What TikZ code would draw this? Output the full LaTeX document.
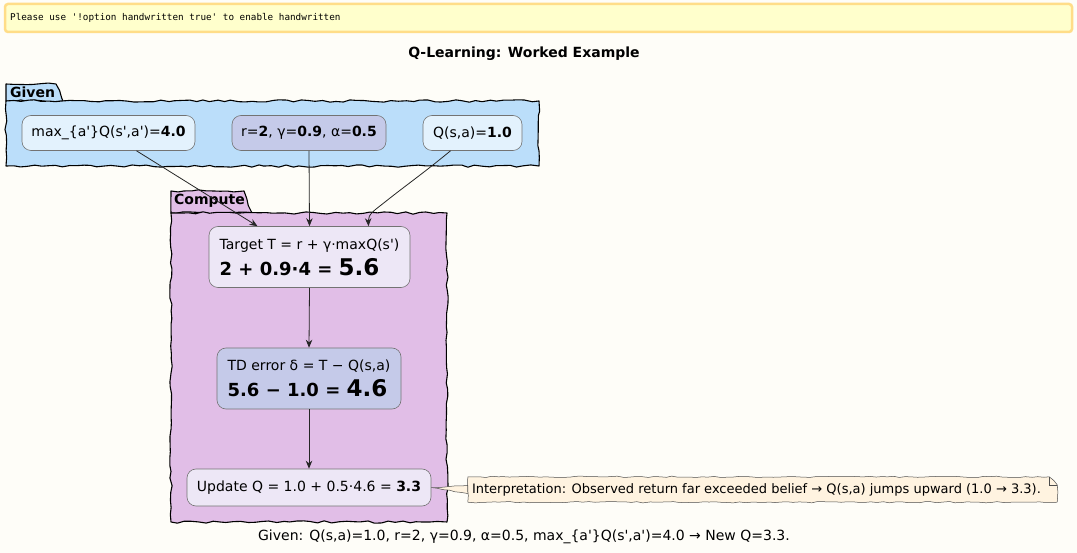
\documentclass[tikz,border=0pt]{standalone}
\usepackage{fontspec}
\newfontfamily\djv{DejaVu Sans}
\newfontfamily\djvmono{DejaVu Sans Mono}
\usetikzlibrary{decorations.pathmorphing,arrows.meta}
\definecolor{bg}{HTML}{FEFDF8}
\definecolor{warnfill}{HTML}{FFFFCC}
\definecolor{warnline}{HTML}{FFDD88}
\definecolor{givenfill}{HTML}{BBDEFA}
\definecolor{computefill}{HTML}{E1BEE7}
\definecolor{paleblue}{HTML}{E3F2FD}
\definecolor{lav}{HTML}{C5CAE9}
\definecolor{palelav}{HTML}{EDE7F6}
\definecolor{notefill}{HTML}{FFF3E0}
\tikzset{
  pkg/.style={draw=black, line width=1.1pt, line join=round,
    decorate, decoration={random steps, segment length=7pt, amplitude=1.2pt}},
  pkglabel/.style={font=\djv\bfseries\fontsize{14}{16}\selectfont, anchor=west, inner sep=0pt},
  box/.style={draw=black!55, line width=0.6pt, rounded corners=9pt,
    font=\djv\fontsize{14}{17}\selectfont, inner sep=0pt, align=center},
  twoline/.style={font=\djv\fontsize{14}{26}\selectfont, align=left},
  conn/.style={draw=black!85, line width=0.8pt, -{Stealth[length=8pt,width=6.5pt]}},
  notefont/.style={font=\djv\fontsize{13}{15}\selectfont},
}
\begin{document}
\begin{tikzpicture}[x=1pt,y=-1pt]
\pgfmathsetseed{11}
\fill[bg] (0,0) rectangle (1077,553);
\useasboundingbox (0,0) rectangle (1077,553);
% warning
\draw[draw=warnline, line width=2.5pt, fill=warnfill, rounded corners=3pt] (5,4) rectangle (1072,32);
\node[anchor=west, inner sep=0pt, font=\djvmono\fontsize{9.3}{11}\selectfont] (warn) at (10,17.5) {Please use '!option handwritten true' to enable handwritten};
% title
\node[font=\djv\bfseries\fontsize{14}{16}\selectfont] (title) at (524,54) {Q-Learning: Worked Example};
% Given package
\draw[pkg, fill=givenfill] (6,101) -- (6,84) -- (56,84) -- (63,101) -- cycle;
\draw[pkg, fill=givenfill] (6,101) rectangle (539,166);
\node[pkglabel] (givenlbl) at (10,92) {Given};
% Compute package
\draw[pkg, fill=computefill] (171,213) -- (171,191) -- (244,191) -- (252,213) -- cycle;
\draw[pkg, fill=computefill] (171,213) rectangle (447,522);
\node[pkglabel] (computelbl) at (174,201) {Compute};
% given nodes
\node[box, fill=paleblue, minimum width=173pt, minimum height=35pt] (maxq) at (108.5,133) {max\_\{a'\}Q(s',a')=\textbf{4.0}};
\node[box, fill=lav, minimum width=154pt, minimum height=35pt] (params) at (309,133) {r=\textbf{2}, γ=\textbf{0.9}, α=\textbf{0.5}};
\node[box, fill=paleblue, minimum width=99pt, minimum height=35pt] (qsa) at (472.5,133) {Q(s,a)=\textbf{1.0}};
% compute nodes
\node[box, twoline, fill=palelav, minimum width=201pt, minimum height=61pt] (target) at (309.5,257)
  {Target T = r + γ·maxQ(s')\\{\bfseries\fontsize{18}{20}\selectfont 2 + 0.9·4 = {\fontsize{23}{24}\selectfont 5.6}}};
\node[box, twoline, fill=lav, minimum width=184pt, minimum height=61pt] (td) at (309,378.5)
  {TD error δ = T − Q(s,a)\\{\bfseries\fontsize{18}{20}\selectfont 5.6 − 1.0 = {\fontsize{23}{24}\selectfont 4.6}}};
\node[box, fill=palelav, minimum width=244pt, minimum height=37pt] (update) at (309,487.5) {Update Q = 1.0 + 0.5·4.6 = \textbf{3.3}};
% note
\node[inner sep=0pt, minimum width=589pt, minimum height=25pt] (note) at (762.5,489.5) {};
\coordinate (nA) at ([yshift=-4pt]note.west);
\coordinate (nB) at ([yshift=4pt]note.west);
\draw[draw=black!70, line width=0.5pt, fill=notefill, line join=round,
  decorate, decoration={random steps, segment length=6pt, amplitude=0.7pt}]
  (note.north west) -- ([xshift=-8pt]note.north east) -- ([yshift=-8pt]note.north east) -- (note.south east) -- (note.south west) -- (nB) -- (update.east) -- (nA) -- cycle;
\draw[draw=black!70, line width=0.5pt] ([xshift=-8pt]note.north east) -- ([xshift=-8pt,yshift=-8pt]note.north east) -- ([yshift=-8pt]note.north east);
\node[inner sep=0pt, notefont, anchor=west] (notetext) at ([xshift=4pt]note.west) {Interpretation: Observed return far exceeded belief → Q(s,a) jumps upward (1.0 → 3.3).};
% connectors
\draw[conn] ([xshift=28pt]maxq.south) -- ([xshift=-52pt]target.north);
\draw[conn] (params.south) -- (target.north);
\draw[conn] ([xshift=-22pt]qsa.south) .. controls (425,172) and (405,186) .. (385,202) .. controls (375,210) and (368,214) .. ([xshift=59pt]target.north);
\draw[conn] (target.south) -- (td.north);
\draw[conn] (td.south) -- (update.north);
% caption
\node[font=\djv\fontsize{14}{16}\selectfont] (caption) at (524,537) {Given: Q(s,a)=1.0, r=2, γ=0.9, α=0.5, max\_\{a'\}Q(s',a')=4.0 → New Q=3.3.};
\end{tikzpicture}
\end{document}
